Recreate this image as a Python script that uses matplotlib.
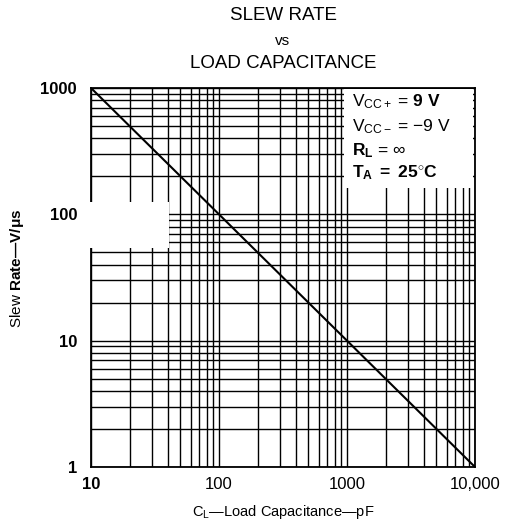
import numpy as np
import matplotlib.pyplot as plt
from matplotlib.patches import Rectangle

plt.rcParams['font.family'] = ['Liberation Sans', 'DejaVu Sans']
plt.rcParams['mathtext.fontset'] = 'custom'
plt.rcParams['mathtext.rm'] = 'Liberation Sans'
plt.rcParams['mathtext.bf'] = 'Liberation Sans:bold'
plt.rcParams['mathtext.it'] = 'Liberation Sans:italic'

# Data
cap_pf = [10, 10000]
slew = [1000, 1]
x_ticks = [10, 100, 1000, 10000]
x_labels = ['10', '100', '1000', '10,000']
y_ticks = [1, 10, 100, 1000]
y_labels = ['1', '10', '100', '1000']

fig = plt.figure(figsize=(5.12, 5.24), dpi=100)
ax = fig.add_axes([91 / 512, 1 - 467 / 524, 384 / 512, 379 / 524])

ax.set_xscale('log')
ax.set_yscale('log')
ax.set_xlim(10, 10000)
ax.set_ylim(1, 1000)

ax.grid(True, which='both', color='black', linewidth=1.0)
ax.set_axisbelow(True)
ax.tick_params(which='both', length=0)
for s in ax.spines.values():
    s.set_linewidth(1.3)

ax.set_xticks(x_ticks)
ax.set_xticklabels(x_labels, fontsize=12)
ax.get_xticklabels()[0].set_fontweight('bold')
ax.set_yticks(y_ticks)
ax.set_yticklabels(y_labels, fontsize=12, fontweight='bold')
ax.tick_params(axis='x', pad=7)
ax.tick_params(axis='y', pad=10)

# white patches (conditions box and blank near "100")
ax.add_patch(Rectangle((0.66, 0.735), 0.335, 0.262, transform=ax.transAxes,
                       facecolor='white', edgecolor='none', zorder=1.5))
ax.add_patch(Rectangle((-0.01, 0.579), 0.213, 0.12, transform=ax.transAxes,
                       facecolor='white', edgecolor='none', zorder=2.6, clip_on=False))

ax.plot(cap_pf, slew, color='black', linewidth=1.5, zorder=3)

# conditions
tx = 0.68
fs = 12.5
ax.text(tx, 0.963, r'$\mathrm{V_{CC+}}$ = $\mathbf{9\ V}$', transform=ax.transAxes,
        fontsize=fs, va='center', zorder=4)
ax.text(tx, 0.897, r'$\mathrm{V_{CC-}}$ = $\mathrm{-9\ V}$', transform=ax.transAxes,
        fontsize=fs, va='center', zorder=4)
ax.text(tx, 0.836, r'$\mathbf{R_L}$ = ∞', transform=ax.transAxes,
        fontsize=fs, va='center', zorder=4)
ax.text(tx, 0.776, r'$\mathbf{T_A\ =\ 25^{\circ}C}$', transform=ax.transAxes,
        fontsize=fs, va='center', zorder=4)

# titles
cx = (91 + 475) / 2 / 512
fig.text(cx, 1 - 16 / 524, 'SLEW RATE', ha='center', va='center', fontsize=13.5)
fig.text(cx, 1 - 41 / 524, 'vs', ha='center', va='center', fontsize=11)
fig.text(cx, 1 - 64 / 524, 'LOAD CAPACITANCE', ha='center', va='center', fontsize=13.5)

fig.text(cx, 1 - 512 / 524, r'$\mathrm{C_L}$—Load Capacitance—pF', ha='center',
         va='center', fontsize=10.5)

fig.text(17 / 512, 1 - 268 / 524, r'Slew $\mathbf{Rate—V/μs}$', rotation=90,
         ha='center', va='center', fontsize=11)

fig.savefig('out.png', dpi=100)
